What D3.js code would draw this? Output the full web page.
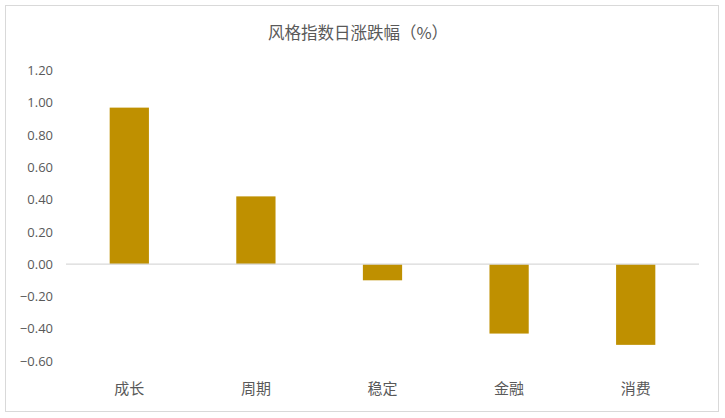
<!DOCTYPE html>
<html>
<head>
<meta charset="utf-8">
<script src="https://cdn.jsdelivr.net/npm/d3@7"></script>
<style>
  html, body { margin: 0; padding: 0; background: #fff; }
  #grafico { width: 725px; height: 418px; }
</style>
</head>
<body>
<div id="grafico"></div>
<script>
// --- dati ---
const categorie = ["成长", "周期", "稳定", "金融", "消费"];
const valori = [0.97, 0.42, -0.10, -0.43, -0.50];
const tickY = [1.2, 1.0, 0.8, 0.6, 0.4, 0.2, 0, -0.2, -0.4, -0.6];
const titolo = "风格指数日涨跌幅（%）";

const W = 725, H = 418;
const svg = d3.select("#grafico").append("svg")
  .attr("width", W).attr("height", H);

// cornice
svg.append("rect")
  .attr("x", 5.5).attr("y", 5.5)
  .attr("width", 713).attr("height", 406)
  .attr("fill", "#fff")
  .attr("stroke", "#d9d9d9").attr("stroke-width", 1);

// titolo
svg.append("text")
  .attr("x", 358).attr("y", 39)
  .attr("text-anchor", "middle")
  .attr("font-family", "'Noto Sans CJK SC', sans-serif")
  .attr("font-size", 16.5)
  .attr("fill", "#595959")
  .text(titolo);

// scale
const x = d3.scaleBand()
  .domain(categorie)
  .range([66, 699])
  .paddingInner(0.69)
  .paddingOuter(0.345);

const y = d3.scaleLinear()
  .domain([-0.6, 1.2])
  .range([361, 70.5]);

// asse Y (solo etichette)
const asseY = svg.append("g")
  .attr("transform", "translate(53,0)")
  .call(d3.axisLeft(y).tickValues(tickY).tickSize(0).tickPadding(0)
    .tickFormat(d3.format(".2f")));
asseY.select(".domain").remove();
asseY.selectAll("text")
  .attr("font-family", "'Open Sans', 'Liberation Sans', sans-serif")
  .attr("font-size", 13)
  .attr("fill", "#595959");

// barre
svg.selectAll("rect.barra")
  .data(valori)
  .join("rect")
  .attr("class", "barra")
  .attr("x", (d, i) => x(categorie[i]))
  .attr("width", x.bandwidth())
  .attr("y", d => y(Math.max(0, d)))
  .attr("height", d => Math.abs(y(d) - y(0)))
  .attr("fill", "#BF9000");

// linea dello zero
svg.append("line")
  .attr("x1", 66).attr("x2", 699)
  .attr("y1", y(0)).attr("y2", y(0))
  .attr("stroke", "#d9d9d9").attr("stroke-width", 1.2);

// etichette categorie
svg.selectAll("text.cat")
  .data(categorie)
  .join("text")
  .attr("class", "cat")
  .attr("x", d => x(d) + x.bandwidth() / 2)
  .attr("y", 394)
  .attr("text-anchor", "middle")
  .attr("font-family", "'Noto Sans CJK SC', sans-serif")
  .attr("font-size", 15)
  .attr("fill", "#595959")
  .text(d => d);
</script>
</body>
</html>
